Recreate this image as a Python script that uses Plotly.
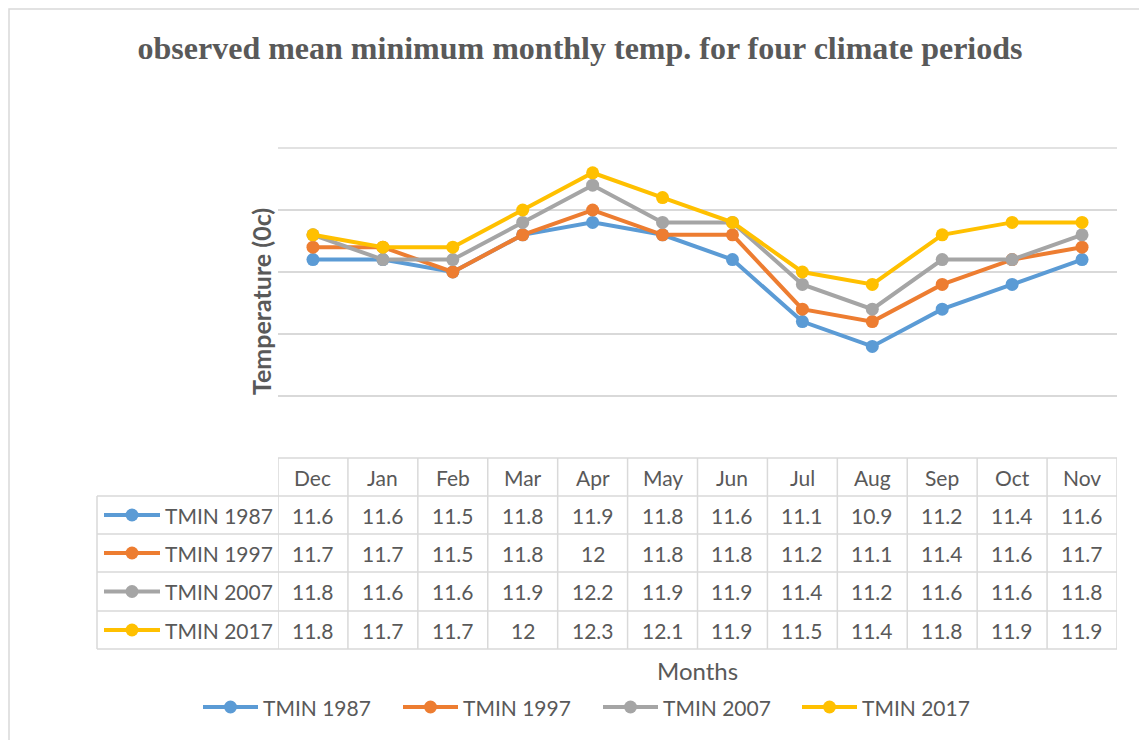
import plotly.graph_objects as go

months = ["Dec", "Jan", "Feb", "Mar", "Apr", "May", "Jun", "Jul", "Aug", "Sep", "Oct", "Nov"]
series_names = ["TMIN 1987", "TMIN 1997", "TMIN 2007", "TMIN 2017"]
tmin_1987 = [11.6, 11.6, 11.5, 11.8, 11.9, 11.8, 11.6, 11.1, 10.9, 11.2, 11.4, 11.6]
tmin_1997 = [11.7, 11.7, 11.5, 11.8, 12.0, 11.8, 11.8, 11.2, 11.1, 11.4, 11.6, 11.7]
tmin_2007 = [11.8, 11.6, 11.6, 11.9, 12.2, 11.9, 11.9, 11.4, 11.2, 11.6, 11.6, 11.8]
tmin_2017 = [11.8, 11.7, 11.7, 12.0, 12.3, 12.1, 11.9, 11.5, 11.4, 11.8, 11.9, 11.9]
series_values = [tmin_1987, tmin_1997, tmin_2007, tmin_2017]
colors = ["#5B9BD5", "#ED7D31", "#A5A5A5", "#FFC000"]

W, H = 1139, 740
L, R, T, B = 278, 1117, 148, 458
TXT = "#595959"
GRID = "#D9D9D9"
FONT = "Lato"


def px(x):
    return (x - L) / (R - L)


def py(y):
    return (B - y) / (B - T)


fig = go.Figure()
for name, vals, c in zip(series_names, series_values, colors):
    fig.add_trace(go.Scatter(x=months, y=vals, name=name, mode="lines+markers",
                             line=dict(color=c, width=4),
                             marker=dict(color=c, size=13),
                             showlegend=False))

shapes = []
annotations = []

# outer chart border
shapes.append(dict(type="rect", xref="paper", yref="paper", x0=px(9), x1=px(1145),
                   y0=py(9), y1=py(746), line=dict(color=GRID, width=1.5), layer="below"))

# top gridline (edge of the value range)
shapes.append(dict(type="line", xref="paper", yref="paper", x0=0, x1=1, y0=1, y1=1,
                   line=dict(color=GRID, width=1.5), layer="below"))

# table grid
row_lines = [496, 534, 572, 611, 649]
shapes.append(dict(type="line", xref="paper", yref="paper", x0=0, x1=1, y0=0, y1=0,
                   line=dict(color=GRID, width=1.5)))
for yl in row_lines:
    shapes.append(dict(type="line", xref="paper", yref="paper", x0=px(97), x1=1,
                       y0=py(yl), y1=py(yl), line=dict(color=GRID, width=1.5)))
shapes.append(dict(type="line", xref="paper", yref="paper", x0=px(97), x1=px(97),
                   y0=py(496), y1=py(649), line=dict(color=GRID, width=1.5)))
for i in range(len(months) + 1):
    shapes.append(dict(type="line", xref="x", yref="paper", x0=i - 0.5, x1=i - 0.5,
                       y0=0, y1=py(649), line=dict(color=GRID, width=1.5)))


def add_text(x, y, text, size=21, xref="paper", xanchor="center", **kw):
    annotations.append(dict(x=x, xref=xref, y=y, yref="paper", text=text,
                            xanchor=xanchor, yanchor="middle", showarrow=False,
                            font=dict(family=FONT, size=size, color=TXT), **kw))


# header
for m in months:
    add_text(m, py(477), m, xref="x")

row_centers = [515, 553, 591.5, 630]


def add_key(x0, x1, yc, c):
    shapes.append(dict(type="line", xref="paper", yref="paper", x0=px(x0), x1=px(x1),
                       y0=py(yc), y1=py(yc), line=dict(color=c, width=4)))
    xm = (x0 + x1) / 2
    r = 6.5
    shapes.append(dict(type="circle", xref="paper", yref="paper",
                       x0=px(xm - r), x1=px(xm + r), y0=py(yc + r), y1=py(yc - r),
                       fillcolor=c, line=dict(color=c, width=0)))


for name, vals, c, yc in zip(series_names, series_values, colors, row_centers):
    add_key(104, 160, yc, c)
    add_text(px(163), py(yc), name, xanchor="left")
    for m, v in zip(months, vals):
        add_text(m, py(yc), f"{v:g}", xref="x")

# bottom legend (drawn like the Excel legend)
legend_x = [203, 403, 603, 802]
for name, c, lx in zip(series_names, colors, legend_x):
    add_key(lx, lx + 55, 707, c)
    add_text(px(lx + 58), py(707), name, xanchor="left")

# axis titles
add_text(px(697), py(670), "Months", size=24)
add_text(px(261), py(302), "<b>Temperature (0c)</b>", size=25, textangle=-90)

fig.update_layout(
    width=W, height=H, autosize=False,
    margin=dict(l=L, r=W - R, t=T, b=H - B, pad=0),
    paper_bgcolor="white", plot_bgcolor="white",
    title=dict(text="<b>observed mean minimum monthly temp. for four climate periods</b>",
               x=580 / W, xanchor="center", y=1 - 48 / H, yanchor="middle",
               font=dict(family="Liberation Serif", size=32, color=TXT)),
    xaxis=dict(type="category", categoryorder="array", categoryarray=months,
               range=[-0.5, 11.5], showticklabels=False, showgrid=False,
               zeroline=False, showline=False, ticks=""),
    yaxis=dict(range=[10, 12.5], dtick=0.5, tick0=10, showticklabels=False,
               showgrid=True, gridcolor=GRID, gridwidth=1.5, zeroline=False,
               showline=False, ticks=""),
    shapes=shapes, annotations=annotations, showlegend=False,
)

fig.write_html("out.html", config={"displayModeBar": False},
               post_script="document.body.style.margin='0';")
